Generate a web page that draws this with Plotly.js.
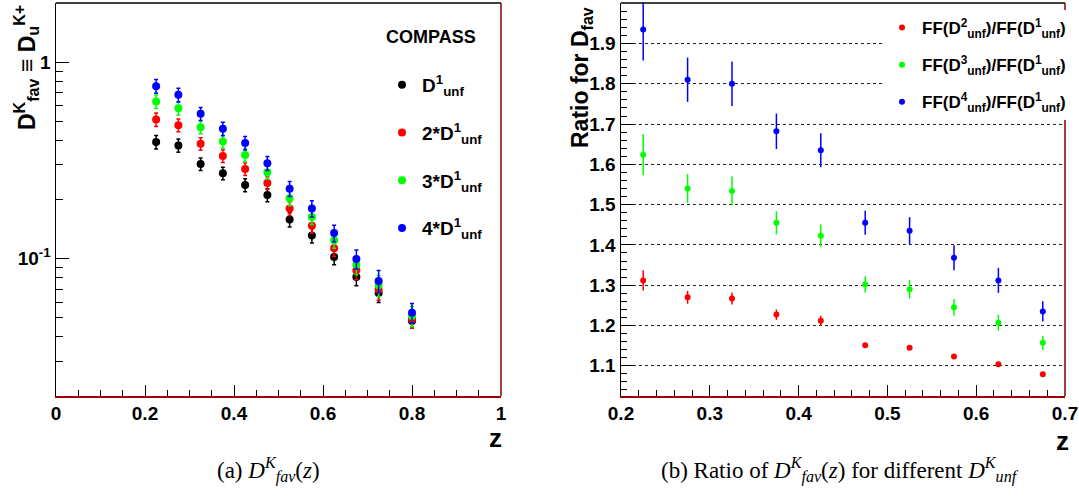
<!DOCTYPE html>
<html>
<head>
<meta charset="utf-8">
<script src="https://cdn.plot.ly/plotly-3.0.1.min.js"></script>
<style>html,body{margin:0;padding:0;background:#fff;}#plot{width:1079px;height:497px;}</style>
</head>
<body>
<div id="plot"></div>
<script>
// ---- Left panel: D_fav^K(z) for different D_unf normalisations ----
const zLeft = [0.225, 0.275, 0.325, 0.375, 0.425, 0.475, 0.525, 0.575, 0.625, 0.675, 0.725, 0.8];
const d1Unf = [0.392, 0.377, 0.303, 0.272, 0.237, 0.211, 0.158, 0.131, 0.102, 0.0807, 0.0669, 0.0482];
const d1Err = [0.031, 0.029, 0.022, 0.020, 0.018, 0.016, 0.013, 0.011, 0.009, 0.008, 0.007, 0.004];
const d2Unf = [0.511, 0.478, 0.384, 0.333, 0.286, 0.243, 0.180, 0.147, 0.113, 0.0872, 0.0695, 0.0492];
const d2Err = [0.040, 0.035, 0.028, 0.024, 0.021, 0.018, 0.014, 0.012, 0.010, 0.009, 0.008, 0.005];
const d3Unf = [0.631, 0.583, 0.467, 0.395, 0.337, 0.275, 0.203, 0.163, 0.124, 0.0929, 0.0732, 0.0511];
const d3Err = [0.050, 0.045, 0.035, 0.030, 0.026, 0.021, 0.017, 0.014, 0.011, 0.010, 0.009, 0.006];
const d4Unf = [0.755, 0.682, 0.546, 0.458, 0.388, 0.306, 0.227, 0.180, 0.135, 0.0996, 0.077, 0.0531];
const d4Err = [0.060, 0.055, 0.042, 0.036, 0.031, 0.025, 0.020, 0.017, 0.013, 0.011, 0.010, 0.006];
const leftNames = ['D<sup>1</sup><sub>unf</sub>', '2*D<sup>1</sup><sub>unf</sub>', '3*D<sup>1</sup><sub>unf</sub>', '4*D<sup>1</sup><sub>unf</sub>'];
const leftYTickVals = [0.1, 1];
const leftYTickText = ['10<sup>-1</sup>', '1'];

// ---- Right panel: ratios ----
const zRight = [0.225, 0.275, 0.325, 0.375, 0.425, 0.475, 0.525, 0.575, 0.625, 0.675];
const ratio21 = [1.312, 1.270, 1.267, 1.227, 1.212, 1.151, 1.145, 1.123, 1.104, 1.079];
const ratio21Err = [0.025, 0.016, 0.015, 0.013, 0.012, 0.006, 0.006, 0.006, 0.006, 0.005];
const ratio31 = [1.624, 1.540, 1.534, 1.455, 1.423, 1.302, 1.290, 1.245, 1.207, 1.157];
const ratio31Err = [0.051, 0.036, 0.036, 0.029, 0.028, 0.020, 0.023, 0.021, 0.020, 0.017];
const ratio41 = [1.935, 1.810, 1.800, 1.682, 1.635, 1.455, 1.435, 1.368, 1.312, 1.235];
const ratio41Err = [0.077, 0.055, 0.055, 0.044, 0.042, 0.030, 0.034, 0.031, 0.031, 0.025];
const rightNames = ['FF(D<sup>2</sup><sub>unf</sub>)/FF(D<sup>1</sup><sub>unf</sub>)',
                    'FF(D<sup>3</sup><sub>unf</sub>)/FF(D<sup>1</sup><sub>unf</sub>)',
                    'FF(D<sup>4</sup><sub>unf</sub>)/FF(D<sup>1</sup><sub>unf</sub>)'];

const colors = ['#000000', '#ff0000', '#00ff00', '#0000ff'];
const FONT = '"Liberation Sans Narrow", "Arial Narrow", "Liberation Sans", Arial, sans-serif';

const W = 1079, H = 497;
const px = v => v / W;
const py = v => 1 - v / H;

const traces = [];
const leftY = [d1Unf, d2Unf, d3Unf, d4Unf];
const leftE = [d1Err, d2Err, d3Err, d4Err];
for (let i = 0; i < 4; i++) {
  traces.push({
    x: zLeft, y: leftY[i], type: 'scatter', mode: 'markers',
    name: leftNames[i], legend: 'legend', legendgroup: 'a' + i,
    marker: {color: colors[i], size: 8},
    error_y: {type: 'data', array: leftE[i], visible: true, color: colors[i], thickness: 1.5, width: 2},
    xaxis: 'x', yaxis: 'y'
  });
}
const rightY = [ratio21, ratio31, ratio41];
const rightE = [ratio21Err, ratio31Err, ratio41Err];
for (let i = 0; i < 3; i++) {
  traces.push({
    x: zRight, y: rightY[i], type: 'scatter', mode: 'markers',
    name: rightNames[i], legend: 'legend2', legendgroup: 'b' + i,
    marker: {color: colors[i + 1], size: 6},
    error_y: {type: 'data', array: rightE[i], visible: true, color: colors[i + 1], thickness: 1.5, width: 0},
    xaxis: 'x2', yaxis: 'y2'
  });
}

const tickFont = {family: FONT, size: 19, color: '#000', weight: 'bold'};
const yDom = [1 - 396 / H, 1 - 3 / H];

const layout = {
  width: W, height: H,
  margin: {l: 0, r: 0, t: 0, b: 0},
  paper_bgcolor: '#fff', plot_bgcolor: '#fff',
  showlegend: true,
  xaxis: {
    domain: [px(56), px(501)], range: [0, 1], anchor: 'y',
    tickmode: 'linear', tick0: 0, dtick: 0.2,
    ticks: 'inside', ticklen: 11, tickwidth: 1, tickcolor: '#000',
    minor: {ticks: 'inside', dtick: 0.05, ticklen: 6, tickcolor: '#000', tickwidth: 1},
    showgrid: false, zeroline: false,
    showline: true, linecolor: '#a00000', linewidth: 1.5,
    tickfont: tickFont, automargin: false
  },
  yaxis: {
    domain: yDom, type: 'log', range: [Math.log10(0.02), Math.log10(2)], anchor: 'x',
    tickmode: 'array', tickvals: leftYTickVals, ticktext: leftYTickText,
    ticks: 'inside', ticklen: 13, tickwidth: 1, tickcolor: '#000',
    minor: {ticks: 'inside', tickmode: 'array',
            tickvals: [0.02, 0.03, 0.04, 0.05, 0.06, 0.07, 0.08, 0.09, 0.2, 0.3, 0.4, 0.5, 0.6, 0.7, 0.8, 0.9, 2],
            ticklen: 7, tickcolor: '#000', tickwidth: 1},
    showgrid: false, zeroline: false,
    showline: true, linecolor: '#000', linewidth: 1.5,
    tickfont: tickFont, automargin: false
  },
  xaxis2: {
    domain: [px(621), px(1065)], range: [0.2, 0.7], anchor: 'y2',
    tickmode: 'linear', tick0: 0.2, dtick: 0.1,
    ticks: 'inside', ticklen: 11, tickwidth: 1, tickcolor: '#000',
    minor: {ticks: 'inside', dtick: 0.02, ticklen: 6, tickcolor: '#000', tickwidth: 1},
    showgrid: false, zeroline: false,
    showline: true, linecolor: '#a00000', linewidth: 1.5,
    tickfont: tickFont, automargin: false
  },
  yaxis2: {
    domain: yDom, range: [1.025, 2.0005], anchor: 'x2',
    tickmode: 'linear', tick0: 1.0, dtick: 0.1,
    ticks: 'inside', ticklen: 12, tickwidth: 1, tickcolor: '#000',
    minor: {ticks: 'inside', dtick: 0.02, ticklen: 6, tickcolor: '#000', tickwidth: 1},
    showgrid: true, gridcolor: '#222', griddash: 'dot', gridwidth: 1,
    zeroline: false,
    showline: true, linecolor: '#000', linewidth: 1.5,
    tickfont: tickFont, automargin: false
  },
  legend: {
    x: px(382), xanchor: 'left', y: py(66), yanchor: 'top',
    bgcolor: 'rgba(255,255,255,0)', borderwidth: 0,
    font: {family: FONT, size: 19, color: '#000', weight: 'bold'},
    tracegroupgap: 20, itemsizing: 'trace'
  },
  legend2: {
    x: px(882), xanchor: 'left', y: py(10), yanchor: 'top',
    bgcolor: '#ffffff', borderwidth: 0,
    font: {family: FONT, size: 17, color: '#000', weight: 'bold'},
    tracegroupgap: 12, itemsizing: 'trace'
  },
  shapes: [
    {type: 'line', xref: 'x domain', yref: 'y domain', x0: 0, x1: 1, y0: 1, y1: 1, line: {color: '#000', width: 1.5}},
    {type: 'line', xref: 'x domain', yref: 'y domain', x0: 1, x1: 1, y0: 0, y1: 1, line: {color: '#800000', width: 1.5}},
    {type: 'line', xref: 'x2 domain', yref: 'y2 domain', x0: 0, x1: 1, y0: 1, y1: 1, line: {color: '#000', width: 1.5}},
    {type: 'line', xref: 'x2 domain', yref: 'y2 domain', x0: 1, x1: 1, y0: 0, y1: 1, line: {color: '#800000', width: 1.5}}
  ],
  annotations: [
    {xref: 'paper', yref: 'paper', x: px(26), y: py(68), xanchor: 'center', yanchor: 'middle', textangle: -90, showarrow: false,
     text: 'D<sup>K</sup><sub>fav</sub> ≡ D<sub>u</sub><sup>K+</sup>', font: {family: FONT, size: 23, color: '#000', weight: 'bold'}},
    {xref: 'paper', yref: 'paper', x: px(581), y: py(78), xanchor: 'center', yanchor: 'middle', textangle: -90, showarrow: false,
     text: 'Ratio for D<sub>fav</sub>', font: {family: FONT, size: 23, color: '#000', weight: 'bold'}},
    {xref: 'paper', yref: 'paper', x: px(495), y: py(438), xanchor: 'center', yanchor: 'middle', showarrow: false,
     text: 'z', font: {family: FONT, size: 26, color: '#000', weight: 'bold'}},
    {xref: 'paper', yref: 'paper', x: px(1062), y: py(441), xanchor: 'center', yanchor: 'middle', showarrow: false,
     text: 'z', font: {family: FONT, size: 26, color: '#000', weight: 'bold'}},
    {xref: 'paper', yref: 'paper', x: px(431), y: py(37), xanchor: 'center', yanchor: 'middle', showarrow: false,
     text: 'COMPASS', font: {family: FONT, size: 18, color: '#000', weight: 'bold'}},
    {xref: 'paper', yref: 'paper', x: px(268), y: py(470), xanchor: 'center', yanchor: 'middle', showarrow: false,
     text: '(a) <i>D</i><sup><i>K</i></sup><sub><i>fav</i></sub>(<i>z</i>)', font: {family: '"Liberation Serif", "DejaVu Serif", serif', size: 23, color: '#000'}},
    {xref: 'paper', yref: 'paper', x: px(840), y: py(470), xanchor: 'center', yanchor: 'middle', showarrow: false,
     text: '(b) Ratio of <i>D</i><sup><i>K</i></sup><sub><i>fav</i></sub>(<i>z</i>) for different <i>D</i><sup><i>K</i></sup><sub><i>unf</i></sub>', font: {family: '"Liberation Serif", "DejaVu Serif", serif', size: 23, color: '#000'}}
  ]
};

Plotly.newPlot('plot', traces, layout, {displayModeBar: false, staticPlot: true});
</script>
</body>
</html>
